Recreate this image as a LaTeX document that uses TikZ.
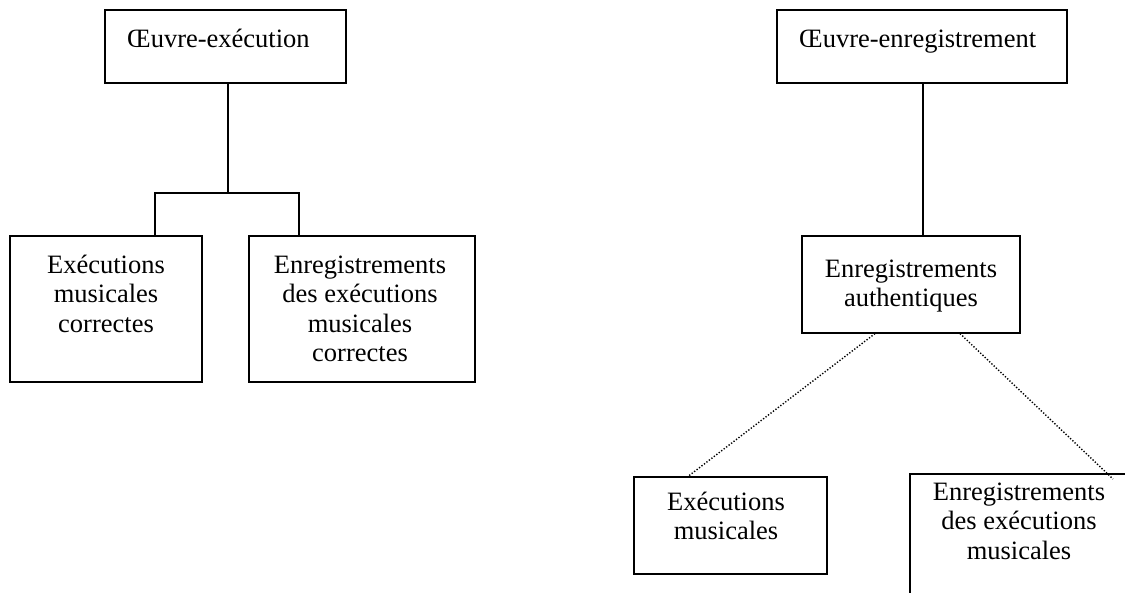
\documentclass[tikz,border=0pt]{standalone}
\usepackage{fontspec}
\setmainfont{Liberation Serif}
\newcommand{\bigfs}{\fontsize{26.5}{29.5}\selectfont}
\begin{document}
\begin{tikzpicture}[x=1pt,y=-1pt,
  box/.style={draw, line width=1.2pt, rectangle, inner sep=0pt},
  txt/.style={anchor=base, inner sep=0pt, font=\bigfs},
  ltxt/.style={anchor=base west, inner sep=0pt, font=\bigfs},
  link/.style={line width=1.3pt},
  dots/.style={line width=1.4pt, dash pattern=on 1.3pt off 1.8pt}]
\useasboundingbox (0,0) rectangle (1125,592);
\clip (0,0) rectangle (1125,592);
\fill[white] (0,0) rectangle (1125,592);
% boxes
\node[box, minimum width=241pt, minimum height=73pt] (b1) at (225.5,46.5) {};
\node[box, minimum width=192pt, minimum height=146pt] (b2) at (106,309) {};
\node[box, minimum width=226pt, minimum height=146pt] (b3) at (362,309) {};
\node[box, minimum width=290pt, minimum height=73pt] (b4) at (922,46.5) {};
\node[box, minimum width=218pt, minimum height=97pt] (b5) at (911,284.5) {};
\node[box, minimum width=193pt, minimum height=97pt] (b6) at (730.5,525.5) {};
\node[box, minimum width=220pt, minimum height=136pt] (b7) at (1020,542) {};
% texts
\node[ltxt] (t1) at (127,47) {Œuvre-exécution};
\node[txt] (t2) at (106,273) {\begin{tabular}[t]{@{}c@{}}Exécutions\\musicales\\correctes\end{tabular}};
\node[txt] (t3) at (360,273) {\begin{tabular}[t]{@{}c@{}}Enregistrements\\des exécutions\\musicales\\correctes\end{tabular}};
\node[ltxt] (t4) at (799,47) {Œuvre-enregistrement};
\node[txt] (t5) at (911,277) {\begin{tabular}[t]{@{}c@{}}Enregistrements\\authentiques\end{tabular}};
\node[txt] (t6) at (726,510) {\begin{tabular}[t]{@{}c@{}}Exécutions\\musicales\end{tabular}};
\node[txt] (t7) at (1019,500) {\begin{tabular}[t]{@{}c@{}}Enregistrements\\des exécutions\\musicales\end{tabular}};
% left tree connectors
\coordinate (j) at (228,193);
\coordinate (jl) at (155,193);
\coordinate (jr) at (299,193);
\draw[link] (j |- b1.south) -- (j);
\draw[link] (jl |- b2.north) -- (jl) -- (jr) -- (jr |- b3.north);
% right tree connectors
\coordinate (v) at (923,0);
\draw[link] (v |- b4.south) -- (v |- b5.north);
\coordinate (dl) at (875,0);
\coordinate (dr) at (960,0);
\coordinate (el) at (688,0);
\coordinate (er) at (1113,479);
\draw[dots] (dl |- b5.south) -- (el |- b6.north);
\draw[dots] (dr |- b5.south) -- (er);
\end{tikzpicture}
\end{document}
